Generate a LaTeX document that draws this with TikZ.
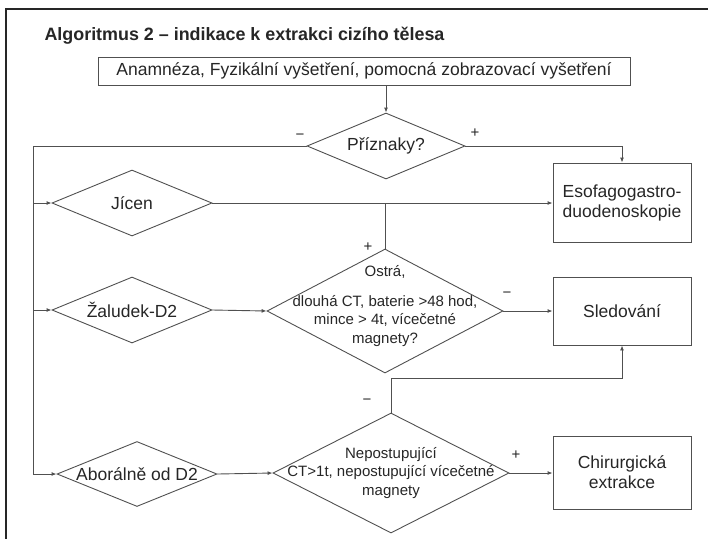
\documentclass[tikz,border=0pt]{standalone}
\usepackage{fontspec}
\setmainfont{Liberation Sans}
\usetikzlibrary{shapes.geometric,arrows.meta}
\definecolor{ligne}{RGB}{80,80,80}

\begin{document}
\begin{tikzpicture}[x=1pt,y=-1pt,
  every node/.style={font=\fontsize{17.5}{20}\selectfont, text=black!85},
  boite/.style={draw=ligne, line width=0.9pt, rectangle, inner sep=0pt, align=center},
  losange/.style={draw=ligne, line width=0.9pt, diamond, inner sep=0pt},
  petit/.style={font=\fontsize{15}{18.5}\selectfont, align=center},
  signe/.style={font=\fontsize{15}{18}\selectfont},
  fl/.style={draw=ligne, line width=0.9pt, -{Latex[length=5pt,width=4pt]}},
  tr/.style={draw=ligne, line width=0.9pt}]
\useasboundingbox (0,0) rectangle (708,539);
\draw [line width=2.5pt, black!85] (708,9) -- (6,9) -- (6,539);

\node [anchor=west, font=\bfseries\fontsize{17.9}{20}\selectfont] (titre) at (41,36) {Algoritmus 2 – indikace k extrakci cizího tělesa};

\node [boite, minimum width=532pt, minimum height=28pt] (anam) at (364,71) {Anamnéza, Fyzikální vyšetření, pomocná zobrazovací vyšetření};

\node [losange, minimum width=158pt, minimum height=66pt] (priz) at (386,146) {};
\node (prizt) at (priz) {Příznaky?};
\node [losange, minimum width=160pt, minimum height=66pt] (jicen) at (132,203) {};
\node (jicent) at (jicen) {Jícen};
\node [losange, minimum width=160pt, minimum height=66pt] (zal) at (132,310) {};
\node (zalt) at (zal) {Žaludek-D2};
\node [losange, minimum width=160pt, minimum height=65pt] (abor) at (137,474) {};
\node (abort) at (abor) {Aborálně od D2};
\node [losange, minimum width=236pt, minimum height=124pt] (ostra) at (385,311) {};
\node [petit] (ostrat) at (385,306) {Ostrá,\\[11pt]dlouhá CT, baterie >48 hod,\\mince > 4t, vícečetné\\magnety?};
\node [losange, minimum width=236pt, minimum height=120pt] (nepo) at (391,473) {};
\node [petit] (nepot) at (nepo) {Nepostupující\\CT>1t, nepostupující vícečetné\\magnety};

\node [boite, minimum width=138pt, minimum height=79pt] (egd) at (622,202.5) {Esofagogastro-\\duodenoskopie};
\node [boite, minimum width=138pt, minimum height=68pt] (sled) at (622,311) {Sledování};
\node [boite, minimum width=138pt, minimum height=73pt] (chir) at (622,472.5) {Chirurgická\\extrakce};

\coordinate (rail) at (33,146);
\draw [fl] (priz.north |- anam.south) -- (priz.north);
\draw [tr] (priz.west) -- (rail) -- (rail |- abor.west);
\draw [fl] (rail |- jicen.west) -- (jicen.west);
\draw [fl] (rail |- zal.west) -- (zal.west);
\draw [fl] (rail |- abor.west) -- (abor.west);
\draw [fl] (priz.east) -| (egd.north);
\draw [fl] (jicen.east) -- (jicen.east -| egd.west);
\draw [tr] (ostra.north) -- (ostra.north |- jicen.east);
\draw [fl] (zal.east) -- (ostra.west);
\draw [fl] (ostra.east) -- (ostra.east -| sled.west);
\draw [fl] (abor.east) -- (nepo.west);
\draw [fl] (nepo.north) -- ++(0,-34) -| (sled.south);
\draw [fl] (nepo.east) -- (nepo.east -| chir.west);

\node [signe] (m1) at (300,137) {−};
\node [signe] (p1) at (475,133) {+};
\node [signe] (p2) at (368,247) {+};
\node [signe] (m2) at (507,295) {−};
\node [signe] (m3) at (367,402) {−};
\node [signe] (p3) at (516,455) {+};
\end{tikzpicture}
\end{document}
